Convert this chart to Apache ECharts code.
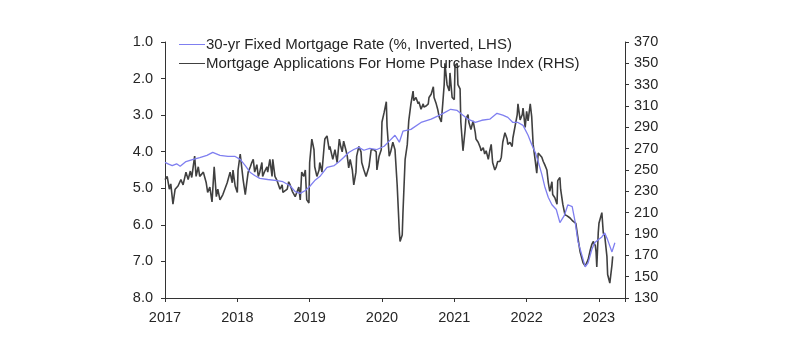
<!DOCTYPE html>
<html>
<head>
<meta charset="utf-8">
<script src="https://cdn.jsdelivr.net/npm/echarts@6/dist/echarts.min.js"></script>
<style>
html,body{margin:0;padding:0;background:#fff;}
#chart{width:798px;height:356px;}
</style>
</head>
<body>
<div id="chart"></div>
<script>
// X axis year ticks
const yearTicks = [2017, 2018, 2019, 2020, 2021, 2022, 2023];
const xMin = 2017, xMax = 2023.36;

// 30-yr fixed mortgage rate (%), plotted inverted on LHS
const rateDates = [2017.00,2017.05,2017.10,2017.16,2017.21,2017.29,2017.39,2017.48,2017.58,2017.66,2017.76,2017.87,2017.97,
2018.04,2018.11,2018.18,2018.24,2018.31,2018.42,2018.55,2018.63,2018.73,2018.80,2018.87,2018.94,
2019.00,2019.07,2019.14,2019.24,2019.34,2019.41,2019.47,2019.54,2019.61,2019.68,2019.75,2019.83,2019.93,
2020.03,2020.11,2020.18,2020.24,2020.29,2020.40,2020.54,2020.68,2020.82,2020.95,
2021.04,2021.12,2021.19,2021.29,2021.38,2021.49,2021.59,2021.67,2021.74,2021.81,2021.88,2021.95,
2022.02,2022.07,2022.12,2022.16,2022.21,2022.25,2022.30,2022.35,2022.41,2022.46,2022.52,2022.57,2022.63,2022.67,2022.71,2022.77,2022.81,2022.85,2022.90,2022.94,2022.99,
2023.04,2023.08,2023.12,2023.18,2023.22];
const rateValues = [4.29,4.34,4.38,4.33,4.40,4.27,4.21,4.16,4.10,4.02,4.10,4.13,4.13,
4.21,4.38,4.57,4.65,4.73,4.76,4.79,4.82,4.93,5.09,5.14,5.06,
4.95,4.79,4.68,4.43,4.38,4.27,4.16,4.02,3.94,3.88,3.96,3.91,3.94,
3.85,3.69,3.55,3.74,3.44,3.39,3.20,3.11,2.98,2.84,
2.87,3.00,3.11,3.20,3.14,3.11,2.95,3.00,3.06,3.20,3.20,3.28,
3.55,3.80,4.02,4.27,4.62,4.95,5.25,5.45,5.58,5.94,5.75,5.45,5.50,5.91,6.46,6.87,7.15,7.04,6.68,6.49,6.41,
6.33,6.22,6.41,6.74,6.49];

// Mortgage applications for home purchase index (RHS)
const appDates = [2017.00,2017.03,2017.06,2017.08,2017.11,2017.14,2017.18,2017.22,2017.25,2017.29,2017.32,2017.35,2017.37,2017.41,2017.43,2017.46,2017.48,2017.53,2017.57,2017.59,2017.62,2017.65,2017.68,2017.71,2017.73,2017.76,2017.80,2017.86,2017.90,2017.93,2017.94,2017.97,
2018.00,2018.01,2018.04,2018.06,2018.08,2018.11,2018.13,2018.15,2018.18,2018.20,2018.22,2018.24,2018.27,2018.29,2018.31,2018.34,2018.35,2018.38,2018.41,2018.42,2018.45,2018.48,2018.49,2018.52,2018.55,2018.59,2018.62,2018.63,2018.69,2018.71,2018.73,2018.76,2018.78,2018.80,2018.82,2018.85,2018.87,2018.89,2018.92,2018.94,2018.96,2018.99,
2019.00,2019.03,2019.06,2019.07,2019.10,2019.13,2019.14,2019.17,2019.20,2019.21,2019.24,2019.27,2019.28,2019.31,2019.32,2019.35,2019.38,2019.41,2019.43,2019.45,2019.47,2019.50,2019.52,2019.54,2019.56,2019.59,2019.61,2019.64,2019.65,2019.68,2019.71,2019.72,2019.75,2019.78,2019.79,2019.82,2019.85,2019.89,2019.92,2019.93,2019.96,2019.99,
2020.00,2020.03,2020.06,2020.07,2020.10,2020.12,2020.15,2020.18,2020.21,2020.24,2020.25,2020.28,2020.29,2020.32,2020.35,2020.37,2020.40,2020.43,2020.44,2020.47,2020.50,2020.51,2020.54,2020.57,2020.58,2020.61,2020.64,2020.65,2020.68,2020.71,2020.72,2020.75,2020.77,2020.79,2020.82,2020.84,2020.86,2020.87,2020.90,2020.93,2020.94,2020.97,
2021.00,2021.01,2021.04,2021.05,2021.08,2021.09,2021.12,2021.15,2021.16,2021.19,2021.20,2021.23,2021.26,2021.29,2021.30,2021.33,2021.36,2021.37,2021.40,2021.42,2021.44,2021.47,2021.49,2021.51,2021.53,2021.56,2021.58,2021.60,2021.63,2021.65,2021.67,2021.70,2021.73,2021.74,2021.77,2021.80,2021.81,2021.84,2021.87,2021.88,2021.91,2021.94,2021.95,2021.98,
2022.00,2022.02,2022.05,2022.07,2022.09,2022.12,2022.14,2022.16,2022.18,2022.21,2022.23,2022.25,2022.28,2022.30,2022.32,2022.35,2022.36,2022.39,2022.42,2022.43,2022.46,2022.47,2022.50,2022.53,2022.56,2022.60,2022.64,2022.68,2022.70,2022.71,2022.74,2022.78,2022.81,2022.83,2022.85,2022.88,2022.90,2022.92,2022.95,2022.96,2022.97,2022.99,
2023.00,2023.01,2023.04,2023.06,2023.08,2023.11,2023.12,2023.15,2023.18,2023.19];
const appValues = [241,244,232,237,218,232,235,241,236,248,241,249,243,263,244,253,244,248,238,229,234,220,253,225,232,222,227,238,248,238,250,235,
229,250,265,253,241,227,238,248,253,257,260,248,255,244,248,257,244,249,253,248,260,244,260,244,240,232,236,229,232,239,236,230,229,225,224,234,222,248,244,250,222,219,
257,279,269,253,244,250,257,248,272,279,282,269,272,263,260,269,257,279,272,267,277,269,263,252,260,250,236,248,263,272,267,257,250,244,243,253,269,269,267,250,263,269,
295,304,314,291,263,267,276,269,236,192,183,189,210,260,274,296,312,324,315,318,312,314,307,312,309,310,312,318,321,328,318,312,307,300,295,312,330,350,330,324,341,318,
316,348,350,330,326,295,268,288,298,302,295,288,296,285,279,276,271,268,271,265,268,260,268,274,257,250,253,258,258,262,276,285,279,274,276,272,280,291,302,312,297,302,308,290,
305,296,312,300,274,258,247,266,266,262,258,255,250,238,230,239,227,224,218,240,243,232,218,208,207,205,202,200,199,186,173,163,160,159,166,175,180,183,179,173,159,191,
200,201,210,191,188,169,152,144,161,169];

const seriesNames = ['30-yr Fixed Mortgage Rate (%, Inverted, LHS)', 'Mortgage Applications For Home Purchase Index (RHS)'];

const zip = (a, b) => a.map((d, i) => [d, b[i]]);

const chart = echarts.init(document.getElementById('chart'), null, {renderer: 'canvas'});
const fontFamily = '"Liberation Sans", Arial, sans-serif';
const txt = '#262626';
const axisCol = '#333333';

chart.setOption({
  animation: false,
  backgroundColor: '#ffffff',
  textStyle: {fontFamily: fontFamily},
  grid: {left: 165, right: 173, top: 42, bottom: 58, containLabel: false},
  legend: {
    orient: 'vertical',
    left: 174,
    top: 31,
    itemWidth: 26,
    itemHeight: 12,
    itemGap: 2,
    data: [seriesNames[0], seriesNames[1]],
    textStyle: {fontFamily: fontFamily, fontSize: 15, color: txt, padding: [0, 0, 0, -4], lineHeight: 17},
    icon: 'path://M0,6L26,6L26,7L0,7Z'
  },
  xAxis: {
    type: 'value',
    min: xMin,
    max: xMax,
    interval: 1,
    axisLine: {show: true, lineStyle: {color: axisCol, width: 1}},
    axisTick: {show: true, length: 4, lineStyle: {color: axisCol}},
    splitLine: {show: false},
    axisLabel: {
      color: txt, fontSize: 14.5, fontFamily: fontFamily, margin: 12,
      showMaxLabel: true,
      formatter: v => (yearTicks.indexOf(Math.round(v * 1000) / 1000) >= 0 ? String(v) : '')
    }
  },
  yAxis: [{
    type: 'value',
    position: 'left',
    inverse: true,
    min: 1,
    max: 8,
    interval: 1,
    axisLine: {show: true, lineStyle: {color: axisCol, width: 1}},
    axisTick: {show: true, length: 4, lineStyle: {color: axisCol}},
    splitLine: {show: false},
    axisLabel: {color: txt, fontSize: 14.5, fontFamily: fontFamily, margin: 12, formatter: v => v.toFixed(1)}
  }, {
    type: 'value',
    position: 'right',
    min: 130,
    max: 370,
    interval: 20,
    axisLine: {show: true, lineStyle: {color: axisCol, width: 1}},
    axisTick: {show: true, length: 4, lineStyle: {color: axisCol}},
    splitLine: {show: false},
    axisLabel: {color: txt, fontSize: 14.5, fontFamily: fontFamily, margin: 9}
  }],
  series: [{
    name: seriesNames[1],
    type: 'line',
    yAxisIndex: 1,
    data: zip(appDates, appValues),
    symbol: 'none',
    lineStyle: {color: '#404040', width: 1.6},
    itemStyle: {color: '#404040'},
    z: 2
  }, {
    name: seriesNames[0],
    type: 'line',
    yAxisIndex: 0,
    data: zip(rateDates, rateValues),
    symbol: 'none',
    lineStyle: {color: '#7f7ff0', width: 1.3},
    itemStyle: {color: '#7f7ff0'},
    z: 3
  }]
});
</script>
</body>
</html>
